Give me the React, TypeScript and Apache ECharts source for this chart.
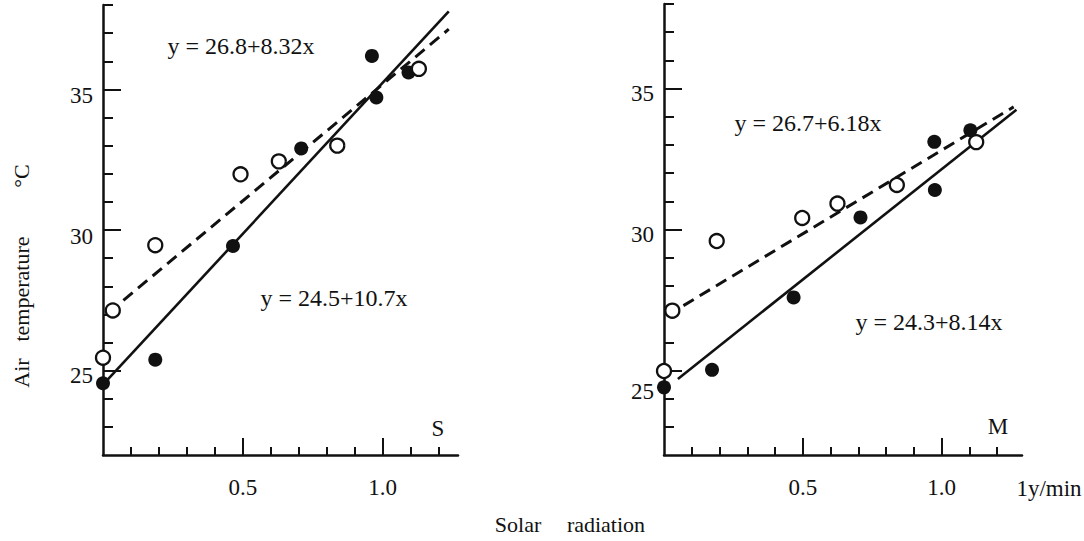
import React, { useEffect, useRef } from "react";
import * as echarts from "echarts";

// ---- Data ----
// Panel S
const sFilled = [[0.0, 24.55], [0.187, 25.39], [0.465, 29.43], [0.709, 32.9], [0.962, 36.19], [0.978, 34.71], [1.093, 35.6]];
const sOpen = [[0.0, 25.46], [0.035, 27.14], [0.187, 29.46], [0.492, 31.98], [0.629, 32.44], [0.838, 33.0], [1.13, 35.73]];
const sSolidLine = [[0.0, 24.5], [1.237, 37.77]];
const sDashedLine = [[0.073, 27.5], [1.237, 37.14]];
// Panel M
const mFilled = [[0.0, 24.4], [0.173, 25.02], [0.467, 27.59], [0.708, 30.43], [0.974, 33.11], [0.976, 31.4], [1.104, 33.52]];
const mOpen = [[0.0, 24.98], [0.03, 27.12], [0.19, 29.59], [0.498, 30.41], [0.625, 30.92], [0.839, 31.58], [1.125, 33.1]];
const mSolidLine = [[0.05, 24.7], [1.27, 34.25]];
const mDashedLine = [[0.07, 27.3], [1.26, 34.35]];

// Ticks and labels
const xMinorTicks = [0.1, 0.2, 0.3, 0.4, 0.6, 0.7, 0.8, 0.9, 1.1, 1.2];
const xMajorTicks = [0.5, 1.0];
const xTickLabels = [0.5, 1.0];
const yMinorTicks = [23, 24, 26, 27, 28, 29, 31, 32, 33, 34, 36, 37, 38];
const yMajorTicks = [25, 30, 35];
const yTickLabels = [25, 30, 35];

const eqS1 = "y = 26.8+8.32x";
const eqS2 = "y = 24.5+10.7x";
const eqM1 = "y = 26.7+6.18x";
const eqM2 = "y = 24.3+8.14x";

const FONT = "Liberation Serif";
const INK = "#111";
const FS_TICK = 23;
const FS_EQ = 24;
const FS_TITLE = 22;

function xAxesFor(gridIndex: number, max: number) {
  return [
    {
      type: "value", gridIndex, min: 0, max,
      axisLine: { show: true, onZero: false, lineStyle: { color: INK, width: 2.5 } },
      axisTick: { show: true, inside: true, length: 8, customValues: xMinorTicks, lineStyle: { color: INK, width: 2 } },
      axisLabel: { show: false },
      splitLine: { show: false },
    },
    {
      type: "value", gridIndex, min: 0, max, position: "bottom",
      axisLine: { show: false, onZero: false },
      axisTick: { show: true, inside: true, length: 17, customValues: xMajorTicks, lineStyle: { color: INK, width: 2 } },
      axisLabel: {
        show: true, customValues: xTickLabels, margin: 21,
        formatter: (v: number) => v.toFixed(1),
        color: INK, fontFamily: FONT, fontSize: FS_TICK,
      },
      splitLine: { show: false },
    },
  ];
}

function yAxesFor(gridIndex: number, right: boolean) {
  const rich = {
    n: { padding: [right ? 10 : 12, 0, 0, 0], color: INK, fontFamily: FONT, fontSize: FS_TICK },
    low: { padding: [right ? 42 : 10, 0, 0, 0], color: INK, fontFamily: FONT, fontSize: FS_TICK },
  };
  return [
    {
      type: "value", gridIndex, min: 22, max: 38,
      axisLine: { show: true, onZero: false, lineStyle: { color: INK, width: 2.5 } },
      axisTick: { show: true, inside: true, length: 10, customValues: yMinorTicks, lineStyle: { color: INK, width: 2 } },
      axisLabel: { show: false },
      splitLine: { show: false },
    },
    {
      type: "value", gridIndex, min: 22, max: 38, position: "left",
      axisLine: { show: false, onZero: false },
      axisTick: { show: true, inside: true, length: 18, customValues: yMajorTicks, lineStyle: { color: INK, width: 2 } },
      axisLabel: {
        show: true, customValues: yTickLabels, margin: 10,
        formatter: (v: number) => (v === 25 ? `{low|${v}}` : `{n|${v}}`),
        rich, color: INK, fontFamily: FONT, fontSize: FS_TICK,
      },
      splitLine: { show: false },
    },
  ];
}

function lineSeries(data: number[][], xi: number, yi: number, dashed: boolean) {
  return {
    type: "line", xAxisIndex: xi, yAxisIndex: yi, data, symbol: "none", silent: true, z: 2,
    lineStyle: { color: INK, width: dashed ? 3 : 2.6, type: dashed ? [12, 7] : "solid" },
  };
}

function dotSeries(data: number[][], xi: number, yi: number, open: boolean) {
  return {
    type: "scatter", xAxisIndex: xi, yAxisIndex: yi, data, symbol: "circle", symbolSize: 14, z: 3,
    itemStyle: open
      ? { color: "#fff", borderColor: INK, borderWidth: 2.3, opacity: 1 }
      : { color: INK, borderColor: INK, borderWidth: 0, opacity: 1 },
  };
}

function txt(text: string, x: number, y: number, size: number, extra: any = {}) {
  return {
    type: "text", x, y, silent: true, ...extra,
    style: { text, fill: INK, fontFamily: FONT, fontSize: size, align: "center", verticalAlign: "middle" },
  };
}

export default function App() {
  const ref = useRef<HTMLDivElement>(null);
  useEffect(() => {
    if (!ref.current) return;
    const chart = echarts.init(ref.current, null, { renderer: "svg" });
    const option: any = {
      animation: false,
      backgroundColor: "#fff",
      grid: [
        { left: 103, top: 5, width: 355, height: 450 },
        { left: 664, top: 4, width: 358, height: 451 },
      ],
      xAxis: [...xAxesFor(0, 1.27), ...xAxesFor(1, 1.29)],
      yAxis: [...yAxesFor(0, false), ...yAxesFor(1, true)],
      series: [
        lineSeries(sSolidLine, 0, 0, false),
        lineSeries(sDashedLine, 0, 0, true),
        dotSeries(sFilled, 0, 0, false),
        dotSeries(sOpen, 0, 0, true),
        lineSeries(mSolidLine, 2, 2, false),
        lineSeries(mDashedLine, 2, 2, true),
        dotSeries(mFilled, 2, 2, false),
        dotSeries(mOpen, 2, 2, true),
      ],
      graphic: [
        txt(eqS1, 241, 46, FS_EQ),
        txt(eqS2, 334, 298, FS_EQ),
        txt(eqM1, 808, 123, FS_EQ),
        txt(eqM2, 929, 322, FS_EQ),
        txt("S", 438, 428, FS_TICK),
        txt("M", 998, 426, FS_TICK),
        txt("1y/min", 1049, 488, FS_TICK),
        txt("Solar", 518, 524, FS_TITLE),
        txt("radiation", 606, 524, FS_TITLE),
        txt("Air", 21, 373, FS_TITLE, { rotation: Math.PI / 2 }),
        txt("temperature", 21, 289, FS_TITLE, { rotation: Math.PI / 2 }),
        txt("°C", 21, 176, FS_TITLE, { rotation: Math.PI / 2 }),
      ],
    };
    chart.setOption(option);
    return () => chart.dispose();
  }, []);
  return (
    <div
      ref={ref}
      style={{ position: "absolute", left: 0, top: 0, width: 1084, height: 541, background: "#fff" }}
    />
  );
}
